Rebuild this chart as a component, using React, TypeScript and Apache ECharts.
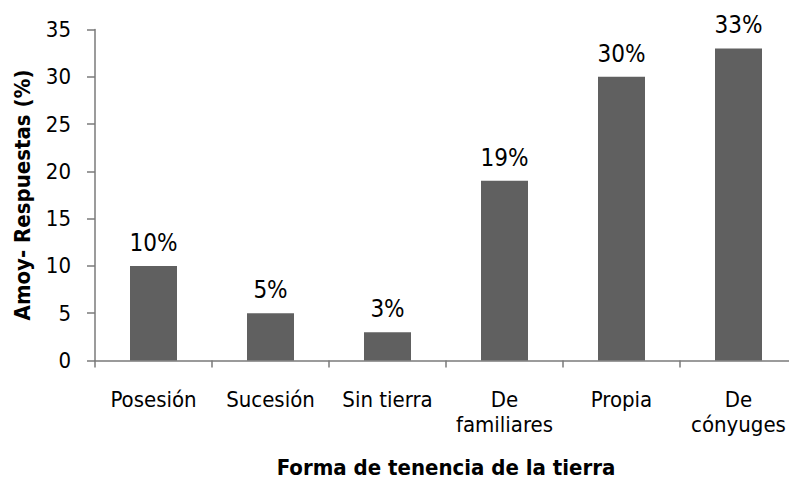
import React, { useEffect, useRef } from "react";
import * as echarts from "echarts";

const categories = ["Posesión", "Sucesión", "Sin tierra", "De\nfamiliares", "Propia", "De\ncónyuges"];
const values = [10, 5, 3, 19, 30, 33];
const yTitle = "Amoy- Respuestas (%)";
const xTitle = "Forma de tenencia de la tierra";

const FONT = "'DejaVu Sans Condensed', 'DejaVu Sans', sans-serif";

export default function App() {
  const ref = useRef<HTMLDivElement>(null);
  useEffect(() => {
    if (!ref.current) return;
    const chart = echarts.init(ref.current, undefined, { renderer: "svg" });
    chart.setOption({
      animation: false,
      backgroundColor: "#ffffff",
      grid: { left: 95, top: 29.5, width: 702, height: 331, containLabel: false, outerBoundsMode: "none" },
      xAxis: {
        type: "category",
        data: categories,
        axisLine: { lineStyle: { color: "#7a7a7a", width: 1.5 } },
        axisTick: { show: true, length: 7, lineStyle: { color: "#7a7a7a", width: 1.5 } },
        axisLabel: { color: "#000", fontFamily: FONT, fontSize: 22, margin: 26, lineHeight: 25, interval: 0 },
        name: xTitle,
        nameLocation: "middle",
        nameGap: 96,
        nameTextStyle: { color: "#000", fontFamily: FONT, fontSize: 22, fontWeight: "bold" },
      },
      yAxis: {
        type: "value",
        min: 0,
        max: 35,
        interval: 5,
        splitLine: { show: false },
        axisLine: { show: true, lineStyle: { color: "#7a7a7a", width: 1.5 } },
        axisTick: { show: true, length: 8, lineStyle: { color: "#7a7a7a", width: 1.5 } },
        axisLabel: { color: "#000", fontFamily: FONT, fontSize: 22, margin: 24 },
        name: yTitle,
        nameLocation: "middle",
        nameGap: 62,
        nameTextStyle: { color: "#000", fontFamily: FONT, fontSize: 22, fontWeight: "bold" },
      },
      series: [
        {
          type: "bar",
          data: values,
          barWidth: 47,
          itemStyle: { color: "#606060" },
          label: {
            show: true,
            position: "top",
            distance: 11,
            formatter: "{c}%",
            color: "#000",
            fontFamily: FONT,
            fontSize: 24,
          },
        },
      ],
    });
    return () => chart.dispose();
  }, []);
  return <div ref={ref} style={{ width: 789, height: 482, position: "absolute", left: 0, top: 0 }} />;
}
